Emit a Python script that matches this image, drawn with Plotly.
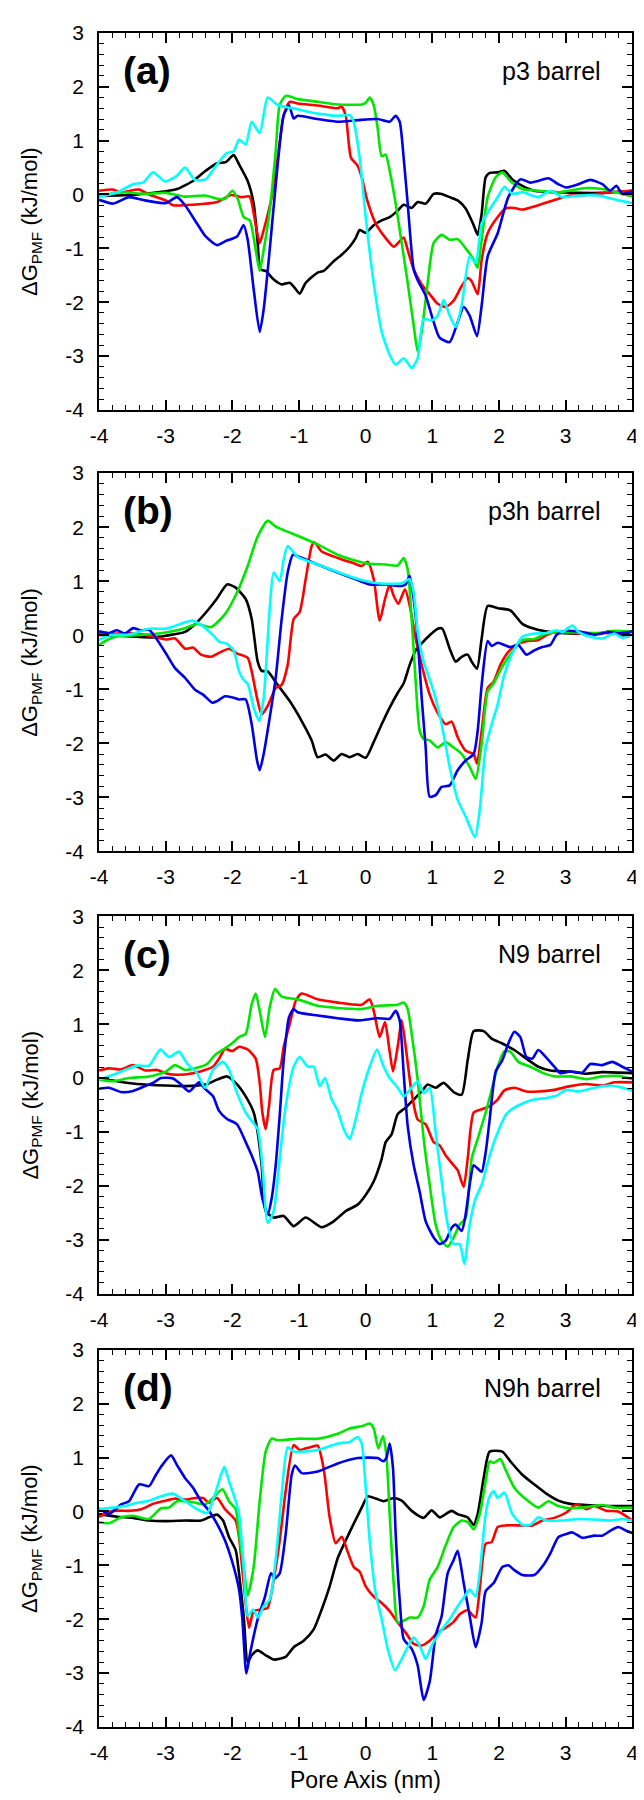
import plotly.graph_objects as go

# ---------------- data (x in nm, dG in kJ/mol) ----------------
a_black = [(-4,-0.03),(-3.43,0.0),(-3.0,0.06),(-2.83,0.1),(-2.59,0.25),(-2.4,0.44),(-2.23,0.58),(-2.1,0.6),(-1.98,0.73),(-1.9,0.56),(-1.77,0.25),(-1.68,-0.17),(-1.62,-0.9),(-1.58,-1.39),(-1.5,-1.42),(-1.38,-1.58),(-1.26,-1.67),(-1.14,-1.64),(-1.08,-1.71),(-0.99,-1.84),(-0.9,-1.64),(-0.72,-1.45),(-0.63,-1.42),(-0.48,-1.24),(-0.36,-1.12),(-0.24,-0.97),(-0.15,-0.81),(-0.09,-0.66),(0.0,-0.71),(0.12,-0.57),(0.24,-0.48),(0.36,-0.42),(0.48,-0.3),(0.57,-0.19),(0.69,-0.25),(0.78,-0.14),(0.9,-0.17),(1.02,0.01),(1.14,0.01),(1.26,-0.05),(1.38,-0.11),(1.5,-0.26),(1.62,-0.57),(1.68,-0.75),(1.74,-0.36),(1.8,0.32),(1.86,0.4),(1.98,0.41),(2.08,0.44),(2.2,0.28),(2.35,0.16),(2.53,0.07),(2.89,0.04),(3.19,0.03),(3.55,0.03),(4.0,0.07)]
a_red = [(-4,0.07),(-3.79,0.09),(-3.67,0.04),(-3.4,0.09),(-3.25,0.0),(-3.0,-0.11),(-2.89,-0.2),(-2.59,-0.19),(-2.23,-0.14),(-2.02,-0.01),(-1.86,-0.05),(-1.74,-0.04),(-1.67,-0.42),(-1.59,-0.9),(-1.53,-0.66),(-1.41,-0.05),(-1.32,0.68),(-1.23,1.47),(-1.14,1.72),(-1.02,1.69),(-0.72,1.65),(-0.42,1.6),(-0.36,1.63),(-0.3,1.47),(-0.22,0.68),(-0.12,0.53),(-0.06,0.32),(0.03,-0.14),(0.15,-0.54),(0.3,-0.81),(0.42,-0.97),(0.51,-0.87),(0.57,-0.8),(0.63,-1.03),(0.72,-1.39),(0.84,-1.67),(0.96,-1.85),(1.08,-2.03),(1.2,-2.09),(1.32,-1.97),(1.44,-1.7),(1.53,-1.55),(1.59,-1.61),(1.68,-1.85),(1.74,-1.21),(1.83,-0.72),(1.98,-0.42),(2.1,-0.26),(2.23,-0.25),(2.35,-0.28),(2.59,-0.2),(2.89,-0.08),(3.07,-0.02),(3.31,-0.01),(3.67,0.04),(4.0,0.07)]
a_green = [(-4,-0.02),(-3.67,0.04),(-3.31,0.01),(-3.0,0.03),(-2.71,-0.04),(-2.41,-0.02),(-2.23,-0.08),(-2.11,-0.08),(-2.0,0.07),(-1.92,-0.08),(-1.83,-0.42),(-1.74,-0.48),(-1.65,-1.03),(-1.59,-1.42),(-1.53,-1.03),(-1.44,-0.3),(-1.35,0.8),(-1.29,1.66),(-1.2,1.83),(-1.02,1.77),(-0.72,1.72),(-0.42,1.67),(-0.06,1.67),(0.0,1.7),(0.06,1.8),(0.12,1.66),(0.18,1.23),(0.24,0.71),(0.3,0.74),(0.36,0.44),(0.45,-0.17),(0.54,-0.9),(0.63,-1.64),(0.72,-2.43),(0.78,-2.92),(0.84,-2.55),(0.93,-1.64),(1.02,-0.9),(1.14,-0.75),(1.26,-0.84),(1.38,-0.83),(1.5,-1.0),(1.62,-1.21),(1.68,-1.36),(1.74,-0.84),(1.83,-0.05),(1.95,0.32),(2.05,0.41),(2.17,0.25),(2.35,0.1),(2.59,0.07),(2.89,0.04),(3.31,0.12),(3.55,0.1),(3.79,0.03),(4.0,-0.04)]
a_blue = [(-4,-0.1),(-3.79,-0.17),(-3.55,-0.05),(-3.31,-0.11),(-3.0,-0.16),(-2.83,-0.05),(-2.71,-0.2),(-2.53,-0.54),(-2.4,-0.78),(-2.23,-0.94),(-2.11,-0.87),(-1.93,-0.78),(-1.83,-0.57),(-1.77,-0.84),(-1.68,-1.76),(-1.59,-2.55),(-1.53,-2.13),(-1.44,-1.03),(-1.32,0.56),(-1.23,1.47),(-1.15,1.65),(-1.08,1.41),(-1.02,1.46),(-0.72,1.4),(-0.42,1.35),(-0.12,1.38),(0.18,1.4),(0.36,1.35),(0.45,1.46),(0.51,1.35),(0.57,0.68),(0.63,-0.17),(0.72,-1.39),(0.78,-1.59),(0.9,-1.88),(1.02,-2.37),(1.11,-2.66),(1.26,-2.74),(1.38,-2.37),(1.47,-2.09),(1.56,-2.25),(1.67,-2.63),(1.74,-2.06),(1.83,-1.15),(1.98,-0.72),(2.14,-0.05),(2.32,0.28),(2.47,0.22),(2.59,0.25),(2.74,0.3),(2.89,0.19),(3.01,0.13),(3.19,0.19),(3.37,0.27),(3.55,0.19),(3.67,0.07),(3.76,0.16),(3.85,0.01),(4.0,0.06)]
a_cyan = [(-4,-0.05),(-3.73,0.04),(-3.49,0.19),(-3.34,0.22),(-3.19,0.41),(-3.01,0.24),(-2.83,0.35),(-2.71,0.5),(-2.56,0.27),(-2.4,0.28),(-2.23,0.56),(-2.08,0.77),(-1.98,0.8),(-1.9,1.02),(-1.8,0.93),(-1.71,1.35),(-1.59,1.14),(-1.47,1.8),(-1.32,1.66),(-1.02,1.58),(-0.72,1.5),(-0.42,1.46),(-0.24,1.47),(-0.18,1.35),(-0.09,0.68),(0.0,-0.42),(0.12,-1.64),(0.24,-2.55),(0.36,-2.98),(0.45,-3.16),(0.57,-3.04),(0.69,-3.22),(0.78,-3.04),(0.87,-2.31),(0.99,-2.34),(1.08,-2.25),(1.17,-1.96),(1.26,-2.25),(1.35,-2.46),(1.44,-2.06),(1.56,-1.15),(1.65,-1.27),(1.74,-0.54),(1.86,-0.28),(1.98,-0.05),(2.08,0.14),(2.2,0.01),(2.35,0.04),(2.59,-0.05),(2.77,0.07),(2.95,-0.05),(3.19,-0.02),(3.49,-0.02),(3.79,-0.11),(4.0,-0.16)]

b_black = [(-4,0.01),(-3.73,-0.01),(-3.43,-0.03),(-3.19,-0.04),(-3.0,-0.01),(-2.71,0.06),(-2.53,0.24),(-2.35,0.49),(-2.23,0.68),(-2.08,0.94),(-1.95,0.88),(-1.8,0.67),(-1.71,0.3),(-1.62,-0.49),(-1.56,-0.66),(-1.47,-0.67),(-1.32,-0.92),(-1.14,-1.22),(-0.96,-1.59),(-0.81,-1.95),(-0.72,-2.26),(-0.6,-2.21),(-0.48,-2.32),(-0.36,-2.2),(-0.24,-2.26),(-0.12,-2.2),(0.0,-2.27),(0.12,-1.98),(0.24,-1.65),(0.36,-1.34),(0.48,-1.07),(0.57,-0.89),(0.66,-0.55),(0.75,-0.28),(0.84,-0.15),(0.96,0.0),(1.08,0.12),(1.15,0.12),(1.26,-0.25),(1.35,-0.49),(1.44,-0.4),(1.53,-0.36),(1.59,-0.49),(1.67,-0.62),(1.74,-0.06),(1.83,0.54),(1.98,0.5),(2.17,0.46),(2.35,0.21),(2.53,0.12),(2.77,0.06),(3.07,0.03),(3.49,0.03),(3.67,0.07),(4.0,0.03)]
b_red = [(-4,0.0),(-3.73,0.03),(-3.43,0.03),(-3.25,-0.01),(-3.0,-0.08),(-2.86,-0.06),(-2.71,-0.25),(-2.59,-0.23),(-2.47,-0.36),(-2.32,-0.4),(-2.17,-0.31),(-2.05,-0.25),(-1.93,-0.34),(-1.77,-0.42),(-1.71,-0.67),(-1.63,-1.16),(-1.56,-1.47),(-1.47,-1.31),(-1.35,-0.98),(-1.26,-0.92),(-1.17,-0.55),(-1.08,0.3),(-0.99,0.43),(-0.9,1.04),(-0.81,1.65),(-0.77,1.72),(-0.66,1.55),(-0.42,1.43),(-0.18,1.33),(-0.06,1.28),(0.03,1.36),(0.12,1.04),(0.21,0.27),(0.29,0.67),(0.36,0.94),(0.42,0.73),(0.49,0.58),(0.59,0.85),(0.66,0.55),(0.75,-0.06),(0.84,-0.55),(0.96,-1.1),(1.08,-1.44),(1.2,-1.65),(1.29,-1.6),(1.38,-1.89),(1.5,-2.14),(1.62,-2.2),(1.67,-2.38),(1.74,-1.77),(1.83,-0.98),(1.92,-0.86),(2.02,-0.55),(2.14,-0.31),(2.26,-0.18),(2.41,-0.11),(2.59,-0.09),(2.71,0.0),(2.86,0.06),(3.19,0.03),(3.55,0.04),(3.79,0.03),(3.91,-0.03),(4.0,0.03)]
b_green = [(-4,-0.18),(-3.85,-0.07),(-3.67,-0.01),(-3.43,0.0),(-3.0,0.05),(-2.71,0.13),(-2.53,0.21),(-2.32,0.15),(-2.11,0.39),(-1.93,0.79),(-1.77,1.28),(-1.62,1.83),(-1.47,2.12),(-1.35,2.01),(-1.02,1.84),(-0.72,1.68),(-0.42,1.49),(-0.12,1.37),(0.06,1.32),(0.3,1.31),(0.48,1.29),(0.57,1.43),(0.63,1.22),(0.69,0.3),(0.75,-0.86),(0.81,-1.77),(0.87,-1.92),(0.96,-1.95),(1.08,-2.08),(1.2,-1.98),(1.32,-2.08),(1.44,-2.2),(1.56,-2.44),(1.65,-2.66),(1.74,-2.01),(1.83,-1.04),(1.92,-0.89),(2.05,-0.58),(2.2,-0.31),(2.35,-0.09),(2.53,-0.07),(2.71,0.03),(3.07,0.06),(3.49,0.04),(3.73,0.08),(4.0,0.06)]
b_blue = [(-4,0.07),(-3.85,0.04),(-3.73,0.09),(-3.61,0.03),(-3.49,0.13),(-3.37,0.09),(-3.25,0.1),(-3.16,-0.03),(-3.01,-0.31),(-2.86,-0.61),(-2.71,-0.79),(-2.56,-1.01),(-2.44,-1.1),(-2.3,-1.25),(-2.23,-1.22),(-2.11,-1.13),(-1.98,-1.16),(-1.9,-1.19),(-1.8,-1.19),(-1.71,-1.65),(-1.63,-2.32),(-1.59,-2.5),(-1.53,-2.2),(-1.44,-1.53),(-1.35,-0.79),(-1.26,0.3),(-1.17,1.16),(-1.09,1.49),(-1.02,1.46),(-0.72,1.31),(-0.42,1.16),(-0.12,1.02),(0.06,0.94),(0.3,0.94),(0.54,0.91),(0.6,0.94),(0.66,1.1),(0.72,0.67),(0.78,-0.06),(0.84,-1.16),(0.9,-2.08),(0.96,-2.99),(1.05,-2.96),(1.14,-2.81),(1.26,-2.78),(1.38,-2.5),(1.5,-2.32),(1.62,-2.2),(1.68,-1.77),(1.74,-0.92),(1.83,-0.11),(1.89,-0.2),(1.98,-0.14),(2.17,-0.22),(2.29,-0.18),(2.41,-0.36),(2.53,-0.28),(2.65,-0.22),(2.77,-0.18),(2.86,0.0),(2.95,0.07),(3.19,0.07),(3.43,0.01),(3.67,0.06),(3.79,0.03),(4.0,0.07)]
b_cyan = [(-4,-0.09),(-3.85,0.0),(-3.55,0.01),(-3.25,0.12),(-3.0,0.12),(-2.86,0.17),(-2.71,0.24),(-2.59,0.27),(-2.47,0.19),(-2.29,0.0),(-2.2,-0.12),(-2.08,-0.16),(-1.98,-0.28),(-1.9,-0.67),(-1.83,-0.83),(-1.77,-0.9),(-1.68,-1.34),(-1.6,-1.59),(-1.53,-1.16),(-1.44,0.49),(-1.38,1.16),(-1.29,1.0),(-1.23,1.4),(-1.17,1.65),(-1.02,1.45),(-0.72,1.31),(-0.42,1.17),(-0.12,1.04),(0.18,0.96),(0.54,0.96),(0.66,1.04),(0.72,0.79),(0.78,0.06),(0.87,-0.49),(1.02,-1.04),(1.14,-1.65),(1.26,-2.44),(1.38,-3.05),(1.5,-3.36),(1.64,-3.74),(1.71,-3.24),(1.8,-2.08),(1.89,-1.65),(1.98,-1.28),(2.08,-0.73),(2.2,-0.34),(2.35,-0.03),(2.53,0.03),(2.71,0.04),(2.86,0.09),(2.95,0.06),(3.1,0.18),(3.19,0.06),(3.37,-0.03),(3.55,-0.06),(3.73,0.03),(3.85,-0.05),(4.0,0.03)]

c_black = [(-4,0.0),(-3.73,-0.06),(-3.43,-0.11),(-3.0,-0.14),(-2.71,-0.15),(-2.4,-0.12),(-2.23,-0.03),(-2.08,0.03),(-1.95,-0.09),(-1.8,-0.34),(-1.68,-0.64),(-1.62,-1.01),(-1.56,-1.62),(-1.5,-2.47),(-1.38,-2.59),(-1.23,-2.56),(-1.08,-2.75),(-0.9,-2.59),(-0.66,-2.77),(-0.48,-2.66),(-0.3,-2.47),(-0.12,-2.35),(0.0,-2.17),(0.12,-1.92),(0.24,-1.5),(0.3,-1.19),(0.39,-1.04),(0.48,-0.67),(0.6,-0.55),(0.72,-0.4),(0.84,-0.25),(0.93,-0.12),(1.05,-0.18),(1.17,-0.09),(1.32,-0.26),(1.44,-0.31),(1.53,0.33),(1.62,0.87),(1.77,0.87),(1.89,0.73),(2.05,0.64),(2.23,0.52),(2.41,0.36),(2.59,0.21),(2.77,0.14),(3.07,0.12),(3.31,0.08),(3.55,0.11),(4.0,0.09)]
c_red = [(-4,0.14),(-3.85,0.18),(-3.67,0.16),(-3.49,0.24),(-3.31,0.14),(-3.13,0.15),(-3.0,0.09),(-2.83,0.06),(-2.59,0.09),(-2.41,0.15),(-2.29,0.21),(-2.2,0.36),(-2.11,0.54),(-2.0,0.5),(-1.9,0.58),(-1.77,0.53),(-1.65,0.36),(-1.59,-0.09),(-1.55,-0.64),(-1.5,-0.95),(-1.45,-0.52),(-1.38,0.15),(-1.29,0.18),(-1.23,0.58),(-1.14,1.0),(-1.05,1.43),(-0.96,1.57),(-0.72,1.46),(-0.42,1.4),(-0.06,1.36),(0.06,1.46),(0.12,1.25),(0.21,0.76),(0.29,1.04),(0.35,0.58),(0.41,0.12),(0.48,0.58),(0.54,1.07),(0.6,0.58),(0.69,-0.28),(0.78,-0.77),(0.9,-0.86),(1.02,-1.19),(1.11,-1.25),(1.2,-1.44),(1.32,-1.62),(1.38,-1.71),(1.47,-2.02),(1.53,-1.5),(1.62,-0.64),(1.74,-0.58),(1.86,-0.52),(1.98,-0.4),(2.08,-0.23),(2.23,-0.18),(2.41,-0.25),(2.59,-0.25),(2.83,-0.22),(3.07,-0.15),(3.31,-0.11),(3.55,-0.14),(3.73,-0.08),(4.0,-0.08)]
c_green = [(-4,-0.03),(-3.79,-0.06),(-3.55,0.0),(-3.25,0.03),(-3.0,0.12),(-2.86,0.24),(-2.71,0.15),(-2.53,0.19),(-2.38,0.26),(-2.26,0.43),(-2.11,0.55),(-1.98,0.67),(-1.9,0.76),(-1.8,0.82),(-1.71,1.37),(-1.65,1.57),(-1.59,1.25),(-1.51,0.76),(-1.44,1.31),(-1.36,1.65),(-1.26,1.51),(-1.02,1.46),(-0.72,1.34),(-0.42,1.3),(-0.06,1.28),(0.18,1.34),(0.48,1.36),(0.57,1.4),(0.63,1.28),(0.69,0.82),(0.78,-0.03),(0.87,-1.13),(0.96,-1.98),(1.05,-2.72),(1.14,-3.02),(1.23,-3.13),(1.32,-2.96),(1.41,-2.72),(1.5,-2.6),(1.59,-1.5),(1.68,-1.13),(1.8,-0.64),(1.89,-0.22),(1.98,0.21),(2.08,0.5),(2.17,0.49),(2.29,0.3),(2.47,0.21),(2.65,0.1),(2.83,0.03),(3.07,0.03),(3.31,-0.02),(3.55,0.03),(3.79,0.04),(4.0,-0.02)]
c_blue = [(-4,-0.2),(-3.85,-0.18),(-3.67,-0.26),(-3.49,-0.24),(-3.31,-0.15),(-3.19,-0.09),(-3.07,0.0),(-2.89,-0.01),(-2.77,-0.12),(-2.65,-0.25),(-2.5,-0.08),(-2.41,-0.2),(-2.29,-0.34),(-2.2,-0.61),(-2.08,-0.76),(-1.93,-0.86),(-1.8,-1.19),(-1.71,-1.44),(-1.62,-1.74),(-1.55,-2.23),(-1.47,-2.53),(-1.41,-2.23),(-1.35,-1.62),(-1.29,-0.7),(-1.23,0.33),(-1.15,1.13),(-1.08,1.28),(-1.02,1.22),(-0.72,1.16),(-0.42,1.11),(-0.12,1.07),(0.18,1.11),(0.36,1.1),(0.45,1.25),(0.51,1.07),(0.57,0.09),(0.63,-0.89),(0.72,-1.62),(0.81,-2.11),(0.9,-2.66),(1.02,-2.96),(1.11,-3.08),(1.2,-3.02),(1.29,-2.78),(1.35,-2.72),(1.44,-2.84),(1.5,-2.53),(1.56,-1.98),(1.62,-1.62),(1.68,-1.68),(1.74,-1.74),(1.8,-1.38),(1.86,-0.77),(1.95,0.12),(2.05,0.33),(2.14,0.64),(2.23,0.86),(2.32,0.76),(2.41,0.39),(2.5,0.36),(2.59,0.52),(2.71,0.38),(2.83,0.21),(2.92,0.09),(3.07,0.12),(3.25,0.1),(3.37,0.26),(3.55,0.24),(3.7,0.3),(3.85,0.21),(4.0,0.12)]
c_cyan = [(-4,-0.03),(-3.79,0.06),(-3.61,0.15),(-3.43,0.23),(-3.25,0.23),(-3.08,0.53),(-2.95,0.39),(-2.8,0.49),(-2.68,0.27),(-2.53,0.09),(-2.41,-0.18),(-2.29,0.15),(-2.14,0.3),(-2.05,0.15),(-1.93,-0.28),(-1.8,-0.64),(-1.71,-0.8),(-1.62,-0.95),(-1.55,-1.62),(-1.47,-2.69),(-1.38,-2.47),(-1.29,-1.5),(-1.2,-0.52),(-1.08,0.21),(-0.99,0.39),(-0.87,0.21),(-0.78,0.21),(-0.69,-0.15),(-0.61,0.0),(-0.51,-0.4),(-0.42,-0.61),(-0.33,-0.95),(-0.24,-1.13),(-0.15,-0.77),(-0.06,-0.28),(0.06,0.21),(0.17,0.53),(0.27,0.21),(0.36,0.0),(0.48,-0.18),(0.57,-0.34),(0.69,-0.18),(0.78,-0.06),(0.87,-0.28),(0.96,-0.18),(1.05,-1.01),(1.14,-1.92),(1.23,-2.72),(1.32,-3.08),(1.41,-3.08),(1.48,-3.45),(1.56,-2.72),(1.65,-2.23),(1.74,-1.98),(1.86,-1.44),(1.98,-1.01),(2.11,-0.67),(2.23,-0.55),(2.38,-0.46),(2.53,-0.4),(2.71,-0.37),(2.86,-0.33),(3.01,-0.22),(3.19,-0.25),(3.43,-0.18),(3.67,-0.14),(3.85,-0.18),(4.0,-0.23)]

d_black = [(-4,-0.05),(-3.73,-0.1),(-3.49,-0.12),(-3.25,-0.17),(-3.0,-0.18),(-2.71,-0.17),(-2.47,-0.17),(-2.35,-0.11),(-2.23,-0.06),(-2.14,-0.17),(-2.05,-0.48),(-1.95,-0.72),(-1.9,-1.15),(-1.83,-1.94),(-1.77,-2.8),(-1.71,-2.67),(-1.62,-2.58),(-1.5,-2.67),(-1.38,-2.75),(-1.2,-2.7),(-1.08,-2.52),(-0.93,-2.4),(-0.78,-2.19),(-0.66,-1.82),(-0.54,-1.39),(-0.42,-0.87),(-0.3,-0.54),(-0.18,-0.23),(-0.06,0.07),(0.03,0.28),(0.15,0.24),(0.27,0.19),(0.42,0.25),(0.54,0.2),(0.69,0.01),(0.87,-0.12),(0.99,0.02),(1.11,-0.11),(1.29,0.01),(1.38,-0.05),(1.53,-0.11),(1.62,-0.25),(1.68,-0.05),(1.77,0.62),(1.86,1.11),(2.05,1.11),(2.17,0.93),(2.35,0.68),(2.53,0.5),(2.71,0.33),(2.89,0.2),(3.07,0.14),(3.31,0.12),(3.67,0.1),(4.0,0.1)]
d_red = [(-4,-0.1),(-3.79,0.01),(-3.55,0.01),(-3.37,0.04),(-3.19,0.14),(-3.0,0.2),(-2.86,0.24),(-2.71,0.22),(-2.56,0.25),(-2.44,0.25),(-2.35,0.16),(-2.23,0.25),(-2.11,0.04),(-1.95,-0.17),(-1.9,-0.48),(-1.83,-1.33),(-1.75,-2.16),(-1.68,-1.85),(-1.56,-1.82),(-1.47,-1.79),(-1.38,-1.27),(-1.29,-0.54),(-1.2,0.38),(-1.08,1.23),(-0.99,1.14),(-0.9,1.17),(-0.81,1.2),(-0.72,1.22),(-0.63,0.79),(-0.54,-0.11),(-0.45,-0.59),(-0.36,-0.47),(-0.27,-0.75),(-0.18,-1.03),(-0.09,-1.12),(0.0,-1.39),(0.12,-1.58),(0.24,-1.7),(0.36,-1.85),(0.48,-2.06),(0.6,-2.25),(0.72,-2.46),(0.84,-2.49),(0.96,-2.4),(1.08,-2.25),(1.2,-2.16),(1.32,-2.05),(1.41,-1.91),(1.53,-1.83),(1.59,-1.91),(1.65,-1.97),(1.71,-1.45),(1.8,-0.6),(1.89,-0.57),(1.98,-0.29),(2.11,-0.26),(2.35,-0.26),(2.5,-0.26),(2.65,-0.17),(2.83,-0.12),(3.01,-0.02),(3.16,0.13),(3.31,0.04),(3.43,0.1),(3.61,0.01),(3.79,0.0),(4.0,-0.17)]
d_green = [(-4,-0.2),(-3.85,-0.22),(-3.67,-0.11),(-3.49,-0.08),(-3.25,-0.14),(-3.07,0.06),(-2.95,0.07),(-2.83,0.19),(-2.59,0.17),(-2.41,0.13),(-2.29,0.25),(-2.15,0.41),(-2.05,0.19),(-1.95,0.04),(-1.9,-0.42),(-1.83,-1.03),(-1.77,-1.56),(-1.68,-1.03),(-1.59,0.19),(-1.5,1.11),(-1.41,1.35),(-1.32,1.32),(-1.02,1.35),(-0.72,1.35),(-0.42,1.44),(-0.24,1.54),(-0.06,1.58),(0.06,1.63),(0.12,1.54),(0.19,1.17),(0.26,1.4),(0.31,1.05),(0.36,-0.05),(0.42,-1.33),(0.48,-2.06),(0.57,-2.03),(0.66,-1.97),(0.78,-1.97),(0.87,-1.76),(0.96,-1.27),(1.08,-1.03),(1.2,-0.63),(1.32,-0.29),(1.44,-0.17),(1.53,-0.2),(1.62,-0.33),(1.71,-0.05),(1.8,0.56),(1.86,0.93),(1.92,0.9),(2.02,0.97),(2.11,0.74),(2.23,0.44),(2.38,0.25),(2.59,0.07),(2.74,0.19),(2.89,0.1),(3.07,0.06),(3.31,0.08),(3.55,0.12),(3.73,0.07),(4.0,0.07)]
d_blue = [(-4,0.06),(-3.85,-0.05),(-3.67,0.13),(-3.55,0.19),(-3.4,0.5),(-3.25,0.47),(-3.16,0.65),(-3.07,0.83),(-2.92,1.04),(-2.83,0.86),(-2.71,0.62),(-2.59,0.44),(-2.47,0.19),(-2.35,0.01),(-2.23,-0.23),(-2.11,-0.54),(-1.98,-1.03),(-1.9,-1.45),(-1.85,-2.0),(-1.79,-3.01),(-1.73,-2.61),(-1.62,-2.0),(-1.51,-1.58),(-1.42,-1.15),(-1.36,-1.24),(-1.29,-1.15),(-1.2,-0.42),(-1.11,0.68),(-1.06,0.85),(-0.96,0.71),(-0.72,0.74),(-0.42,0.89),(-0.12,0.99),(0.18,0.99),(0.26,0.93),(0.31,0.99),(0.36,1.26),(0.41,0.8),(0.45,-0.42),(0.51,-1.64),(0.57,-2.37),(0.69,-2.55),(0.78,-2.86),(0.87,-3.5),(0.96,-3.16),(1.05,-2.3),(1.14,-1.94),(1.23,-1.15),(1.32,-0.9),(1.38,-0.73),(1.47,-1.33),(1.56,-1.94),(1.65,-2.52),(1.74,-2.06),(1.8,-1.48),(1.92,-1.33),(2.05,-1.03),(2.14,-1.0),(2.23,-1.09),(2.35,-1.18),(2.53,-1.18),(2.68,-0.97),(2.77,-0.78),(2.89,-0.48),(3.01,-0.42),(3.1,-0.39),(3.25,-0.49),(3.43,-0.45),(3.55,-0.45),(3.67,-0.36),(3.79,-0.29),(3.91,-0.36),(4.0,-0.4)]
d_cyan = [(-4,0.04),(-3.79,0.07),(-3.61,0.1),(-3.43,0.16),(-3.25,0.2),(-3.07,0.28),(-2.89,0.33),(-2.71,0.19),(-2.53,0.04),(-2.38,-0.03),(-2.26,0.32),(-2.17,0.68),(-2.12,0.83),(-2.05,0.56),(-1.95,0.19),(-1.9,-0.05),(-1.83,-1.03),(-1.77,-1.94),(-1.69,-1.82),(-1.62,-1.97),(-1.53,-1.76),(-1.44,-1.64),(-1.35,-0.9),(-1.26,0.32),(-1.17,1.19),(-1.08,1.11),(-0.72,1.14),(-0.42,1.26),(-0.24,1.29),(-0.12,1.38),(-0.06,1.26),(0.0,0.44),(0.06,-0.54),(0.15,-1.52),(0.24,-2.0),(0.33,-2.55),(0.44,-2.95),(0.54,-2.74),(0.63,-2.52),(0.72,-2.34),(0.81,-2.49),(0.9,-2.74),(0.99,-2.49),(1.11,-2.25),(1.26,-2.0),(1.38,-1.76),(1.5,-1.55),(1.56,-1.45),(1.65,-1.58),(1.71,-1.15),(1.8,-0.05),(1.86,0.28),(1.92,0.38),(1.98,0.25),(2.08,0.35),(2.2,-0.05),(2.35,-0.25),(2.47,-0.25),(2.59,-0.11),(2.71,-0.17),(2.95,-0.17),(3.19,-0.14),(3.43,-0.15),(3.67,-0.17),(3.85,-0.14),(4.0,-0.17)]

panel_letters = ["(a)", "(b)", "(c)", "(d)"]
panel_names = ["p3 barrel", "p3h barrel", "N9 barrel", "N9h barrel"]
x_ticks = [-4, -3, -2, -1, 0, 1, 2, 3, 4]
y_ticks = [-4, -3, -2, -1, 0, 1, 2, 3]
series_colors = {"black": "#000000", "red": "#ff0000", "green": "#00e600", "blue": "#0000e6", "cyan": "#00ffff"}

panels = [
    {"black": a_black, "red": a_red, "green": a_green, "blue": a_blue, "cyan": a_cyan},
    {"black": b_black, "red": b_red, "green": b_green, "blue": b_blue, "cyan": b_cyan},
    {"black": c_black, "red": c_red, "green": c_green, "blue": c_blue, "cyan": c_cyan},
    {"black": d_black, "red": d_red, "green": d_green, "blue": d_blue, "cyan": d_cyan},
]

# ---------------- layout geometry ----------------
W, H = 644, 1800
x_dom = [84 / W, 630 / W]
tops_bottoms = [(13, 395), (459, 842), (908, 1290), (1347, 1729)]
y_doms = [[1 - b / H, 1 - t / H] for t, b in tops_bottoms]

FONT = "Liberation Sans, Arial, Helvetica, sans-serif"

fig = go.Figure()
annotations = []
layout = dict(
    width=W, height=H,
    margin=dict(l=0, r=0, t=0, b=0),
    paper_bgcolor="white", plot_bgcolor="white",
    showlegend=False,
    font=dict(family=FONT, color="black"),
)

for i, panel in enumerate(panels):
    n = i + 1
    xa = "x" if n == 1 else f"x{n}"
    ya = "y" if n == 1 else f"y{n}"
    for name in ["black", "red", "green", "blue", "cyan"]:
        pts = panel[name]
        xs = [p[0] for p in pts]
        ys = [p[1] for p in pts]
        fig.add_trace(go.Scatter(
            x=xs, y=ys, mode="lines", xaxis=xa, yaxis=ya,
            line=dict(color=series_colors[name], width=2.6, shape="spline", smoothing=0.6),
            hoverinfo="skip",
        ))
    common = dict(
        showline=True, linecolor="black", linewidth=2, mirror="allticks",
        ticks="inside", ticklen=10, tickwidth=1.6, tickcolor="black",
        showgrid=False, zeroline=False,
        tickfont=dict(family=FONT, size=21, color="black"),
        minor=dict(ticks="inside", ticklen=5, tickwidth=1.3, tickcolor="black", showgrid=False),
    )
    layout[f"xaxis{'' if n == 1 else n}"] = dict(
        common, domain=x_dom, anchor=ya, range=[-4, 4],
        tickmode="array", tickvals=x_ticks, ticktext=[str(v) for v in x_ticks],
        minor_dtick=0.2, minor_tick0=0, ticklabelstandoff=6,
    )
    layout[f"yaxis{'' if n == 1 else n}"] = dict(
        common, domain=y_doms[i], anchor=xa, range=[-4, 3],
        tickmode="array", tickvals=y_ticks, ticktext=[str(v) for v in y_ticks],
        minor_dtick=0.2, minor_tick0=0, ticklabelstandoff=9,
    )
    annotations.append(dict(
        text="<b>" + panel_letters[i] + "</b>", xref=f"{xa} domain", yref=f"{ya} domain",
        x=0.042, y=0.9, xanchor="left", yanchor="middle", showarrow=False,
        font=dict(family=FONT, size=39, color="black"),
    ))
    annotations.append(dict(
        text=panel_names[i], xref=f"{xa} domain", yref=f"{ya} domain",
        x=0.945, y=0.9, xanchor="right", yanchor="middle", showarrow=False,
        font=dict(family=FONT, size=25, color="black"),
    ))
    annotations.append(dict(
        text="ΔG<sub>PMF</sub> (kJ/mol)", xref="paper", yref=f"{ya} domain",
        x=15 / W, y=0.5, xanchor="center", yanchor="middle", textangle=-90, showarrow=False,
        font=dict(family=FONT, size=22, color="black"),
    ))

annotations.append(dict(
    text="Pore Axis (nm)", xref="x4 domain", yref="paper",
    x=0.5, y=1 - 1783 / H, xanchor="center", yanchor="middle", showarrow=False,
    font=dict(family=FONT, size=23, color="black"),
))
layout["annotations"] = annotations
fig.update_layout(**layout)
fig.write_html("out.html")
